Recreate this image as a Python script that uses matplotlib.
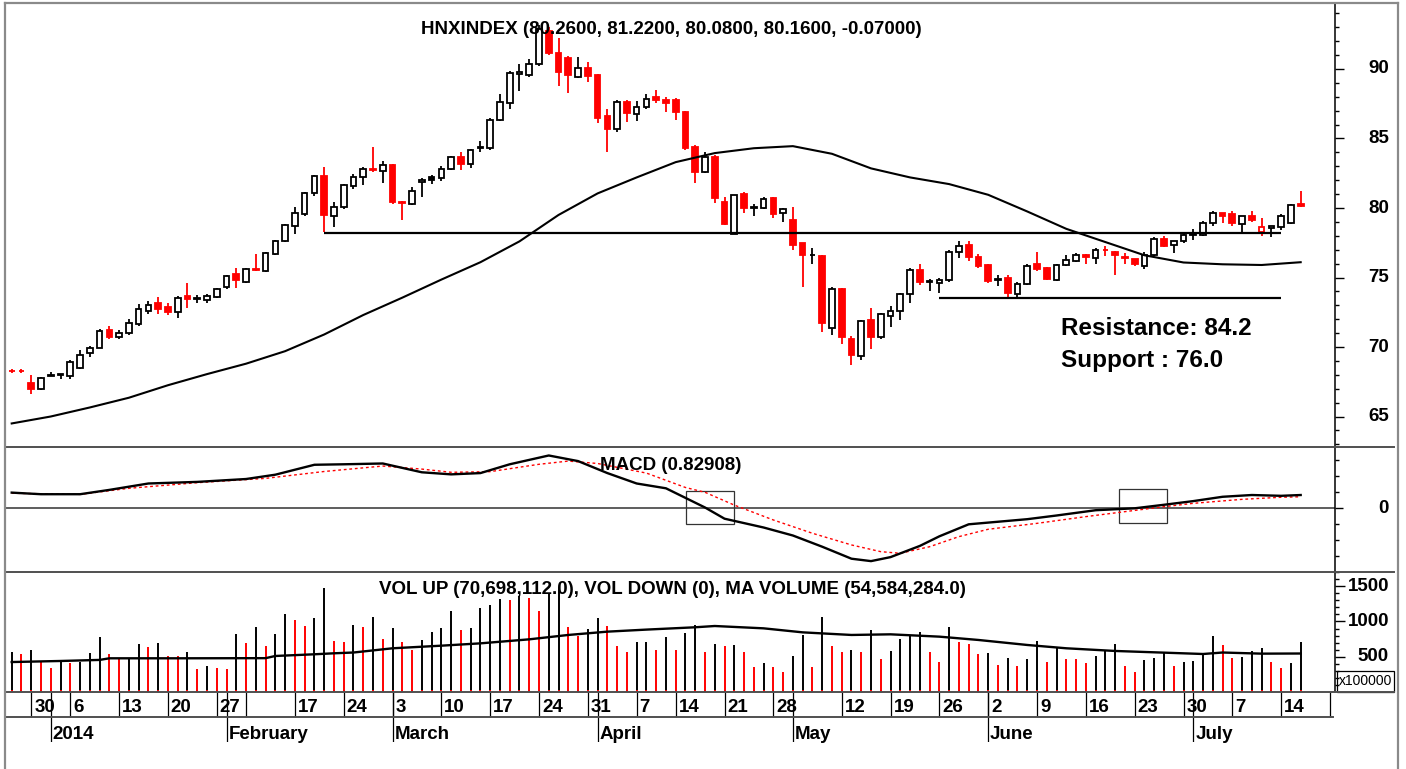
import matplotlib
matplotlib.use('Agg')
import matplotlib.pyplot as plt
import matplotlib.transforms as mtransforms
from matplotlib.patches import Rectangle
from matplotlib.lines import Line2D
import numpy as np

plt.rcParams['font.family'] = ['Liberation Sans', 'DejaVu Sans']

# ---------------- data ----------------
opens = [68.30, 68.30, 67.40, 66.96, 67.93, 68.02, 67.90, 68.50, 69.55, 69.95,
         71.25, 70.70, 71.00, 71.65, 72.60, 73.20, 72.85, 72.50, 73.65, 73.45,
         73.40, 73.60, 74.30, 75.25, 74.70, 75.62, 75.50, 76.70, 77.65, 78.70,
         79.60, 81.05, 82.30, 79.45, 80.05, 81.60, 82.25, 82.78, 82.66, 83.10,
         80.45, 80.30, 81.90, 82.20, 82.15, 82.80, 83.70, 83.15, 84.30, 84.35,
         86.35, 87.55, 89.65, 89.60, 90.35, 92.75, 91.15, 90.80, 89.45, 90.05,
         89.60, 86.60, 85.65, 87.65, 86.75, 87.25, 87.95, 87.80, 87.75, 86.90,
         84.40, 82.60, 83.65, 80.45, 78.15, 81.00, 80.00, 80.00, 80.70, 79.65,
         79.15, 77.45, 76.60, 76.55, 71.40, 74.20, 70.60, 69.35, 71.95, 70.70,
         72.25, 72.60, 73.80, 75.55, 74.65, 74.60, 74.80, 76.80, 77.35, 76.50,
         75.90, 74.85, 75.00, 73.80, 74.50, 75.95, 75.70, 74.85, 75.90, 76.20,
         76.65, 76.40, 77.00, 76.85, 76.50, 76.30, 75.85, 76.60, 77.80, 77.35,
         77.60, 78.05, 78.05, 78.90, 79.65, 79.60, 78.85, 79.45, 78.25, 78.55,
         78.60, 78.95, 80.26]
highs = [68.45, 68.45, 68.00, 67.85, 68.20, 68.05, 69.10, 69.75, 70.10, 71.30,
         71.50, 71.20, 72.00, 73.10, 73.30, 73.60, 73.20, 73.70, 74.60, 73.75,
         73.80, 74.25, 75.20, 75.65, 75.65, 76.70, 76.85, 77.70, 78.85, 80.10,
         81.15, 82.40, 82.95, 80.40, 81.75, 82.45, 82.95, 84.40, 83.35, 83.20,
         80.50, 81.50, 82.15, 82.40, 83.00, 83.75, 84.05, 84.25, 84.80, 86.50,
         88.20, 89.85, 90.35, 90.70, 93.20, 93.05, 92.20, 90.90, 90.85, 90.50,
         89.65, 87.10, 87.75, 87.80, 87.70, 88.20, 88.50, 88.00, 87.90, 86.95,
         84.55, 84.05, 83.80, 80.80, 80.95, 81.15, 80.30, 80.80, 80.80, 80.00,
         80.10, 77.50, 77.10, 76.60, 74.35, 74.25, 70.80, 71.95, 72.80, 72.45,
         72.95, 73.85, 75.65, 76.00, 74.90, 74.95, 76.95, 77.60, 77.60, 76.70,
         76.00, 75.20, 75.20, 74.65, 75.95, 76.80, 75.75, 76.00, 76.60, 76.75,
         76.70, 77.10, 77.30, 76.90, 76.75, 76.35, 76.80, 77.90, 77.95, 77.62,
         78.25, 78.50, 79.05, 79.75, 79.67, 79.80, 79.45, 79.75, 79.25, 78.72,
         79.55, 80.30, 81.22]
lows = [68.15, 68.15, 66.60, 66.90, 67.90, 67.70, 67.70, 68.40, 69.30, 69.90,
        70.60, 70.60, 70.85, 71.50, 72.40, 72.40, 72.30, 72.10, 72.80, 73.20,
        73.20, 73.50, 74.20, 74.25, 74.60, 75.50, 75.40, 76.60, 77.55, 78.10,
        79.45, 80.85, 78.25, 78.60, 79.95, 81.40, 81.65, 82.60, 81.80, 80.30,
        79.15, 80.20, 80.80, 81.75, 81.95, 82.75, 82.70, 82.90, 84.00, 84.20,
        86.25, 87.10, 88.40, 89.40, 90.20, 91.00, 88.80, 88.30, 89.35, 89.05,
        86.15, 84.05, 85.50, 86.20, 86.25, 87.15, 87.55, 86.90, 86.30, 84.15,
        81.80, 82.50, 80.35, 78.75, 78.10, 79.65, 79.40, 79.90, 79.30, 79.00,
        76.95, 74.35, 76.00, 71.10, 70.85, 70.25, 68.70, 69.05, 69.85, 70.60,
        71.45, 71.95, 73.20, 74.45, 74.00, 73.90, 74.70, 76.40, 76.20, 75.70,
        74.60, 74.40, 73.55, 73.50, 74.45, 75.50, 74.80, 74.75, 75.80, 76.10,
        75.95, 75.95, 76.55, 75.20, 75.95, 75.80, 75.60, 76.55, 77.20, 76.75,
        77.50, 77.70, 78.00, 78.70, 78.90, 78.70, 78.20, 79.00, 77.95, 77.90,
        78.45, 78.85, 80.08]
closes = [68.28, 68.25, 67.00, 67.80, 67.97, 68.05, 68.90, 69.40, 69.90, 71.15,
          70.75, 71.00, 71.70, 72.70, 73.05, 72.70, 72.50, 73.50, 73.45, 73.50,
          73.70, 74.15, 75.10, 74.80, 75.60, 75.55, 76.75, 77.60, 78.75, 79.65,
          81.05, 82.30, 79.50, 80.10, 81.65, 82.25, 82.80, 82.70, 83.10, 80.40,
          80.35, 81.25, 82.00, 82.05, 82.80, 83.65, 83.15, 84.15, 84.40, 86.35,
          87.60, 89.70, 89.75, 90.35, 92.90, 91.15, 89.80, 89.55, 90.05, 89.50,
          86.50, 85.65, 87.65, 86.85, 87.25, 87.85, 87.80, 87.55, 86.90, 84.30,
          82.60, 83.65, 80.70, 78.85, 80.90, 80.00, 80.10, 80.65, 79.60, 79.90,
          77.35, 76.60, 76.65, 71.75, 74.20, 70.75, 69.40, 71.90, 70.75, 72.35,
          72.60, 73.80, 75.55, 74.65, 74.75, 74.85, 76.85, 77.30, 76.50, 75.85,
          74.75, 74.90, 73.90, 74.55, 75.85, 75.60, 74.90, 75.90, 76.25, 76.60,
          76.50, 77.00, 76.95, 76.60, 76.40, 76.00, 76.60, 77.80, 77.25, 77.60,
          78.05, 78.10, 78.95, 79.65, 79.45, 78.90, 79.40, 79.15, 78.65, 78.70,
          79.45, 80.23, 80.16]

# 50-day moving average of the index, read every 4 sessions
ma_idx = list(range(0, 133, 4))
ma_val = [64.5, 65.0, 65.65, 66.35, 67.25, 68.05, 68.8, 69.7, 70.9, 72.3,
          73.55, 74.85, 76.1, 77.6, 79.5, 81.05, 82.2, 83.3, 83.95, 84.3,
          84.45, 83.9, 82.85, 82.2, 81.72, 80.95, 79.75, 78.5, 77.55, 76.6,
          76.08, 75.95, 75.9, 76.1]

resistance_level = 78.18
support_level = 73.53

macd_idx = [0, 3, 7, 10, 14, 19, 24, 27, 31, 34, 38, 42, 45, 48, 51, 55, 58, 61,
            64, 67, 69, 71, 73, 77, 80, 83, 86, 88, 90, 93, 95, 98, 101, 104, 107,
            111, 115, 118, 121, 124, 127, 130, 132]
macd_val = [0.98, 0.88, 0.88, 1.15, 1.55, 1.65, 1.83, 2.1, 2.72, 2.75, 2.8, 2.25,
            2.12, 2.2, 2.75, 3.3, 2.95, 2.2, 1.55, 1.25, 0.65, 0.05, -0.65, -1.2,
            -1.7, -2.4, -3.15, -3.3, -3.05, -2.35, -1.75, -1.0, -0.84, -0.68, -0.45,
            -0.12, 0.0, 0.22, 0.45, 0.72, 0.83, 0.78, 0.83]
sig_idx = [0, 7, 12, 19, 26, 32, 38, 42, 45, 49, 54, 57, 60, 65, 69, 71, 74, 78,
           82, 86, 89, 91, 94, 97, 100, 105, 110, 114, 118, 121, 126, 130, 132]
sig_val = [0.94, 0.87, 1.25, 1.6, 1.87, 2.3, 2.64, 2.45, 2.25, 2.29, 2.75, 2.95,
           2.8, 2.2, 1.3, 1.0, 0.2, -0.73, -1.56, -2.29, -2.71, -2.81, -2.4, -1.77,
           -1.31, -0.94, -0.52, -0.21, 0.1, 0.31, 0.56, 0.69, 0.72]

# volume in units of 100,000 shares
volume = [563, 535, 596, 421, 336, 440, 415, 425, 558, 785,
          535, 468, 478, 677, 643, 690, 515, 505, 563, 322,
          369, 336, 330, 818, 690, 918, 657, 823, 1102, 1021,
          941, 1045, 1480, 728, 705, 950, 918, 1060, 747, 903,
          705, 596, 738, 856, 903, 1149, 879, 903, 1187, 1234,
          1319, 1305, 1366, 1329, 1153, 1400, 1471, 927, 794, 894,
          1045, 936, 652, 563, 705, 713, 596,
          785, 596, 832, 950, 563, 677, 655, 665, 563, 359,
          416, 359, 279, 511, 809, 359, 1068, 657, 563, 596,
          563, 879, 468, 582, 747, 799, 856, 563, 430, 918,
          714, 677, 535, 549, 383, 487, 369, 468, 728, 430,
          629, 468, 465, 416, 515, 586, 677, 369, 288, 454,
          487, 563, 369, 421, 440, 525, 794, 667, 487, 495,
          586, 620, 421, 336, 407, 707]
vma_idx = [0, 5, 9, 10, 17, 26, 27, 31, 33, 35, 39, 44, 48, 53, 57, 61, 65, 70,
           72, 77, 81, 86, 90, 95, 99, 104, 108, 113, 117, 122, 124, 128, 132]
vma_val = [425, 440, 455, 478, 478, 480, 511, 535, 549, 560, 620, 657, 690, 747,
           809, 856, 885, 918, 936, 903, 846, 809, 818, 785, 738, 667, 620, 582,
           563, 539, 560, 544, 546]

week_idx = [2, 6, 11, 16, 21, 24, 29, 34, 39, 44, 49, 54, 59, 64, 68, 73, 78, 85,
            90, 95, 100, 105, 110, 115, 120, 125, 130, 135]
week_lbl = ['30', '6', '13', '20', '27', '', '17', '24', '3', '10', '17', '24', '31',
            '7', '14', '21', '28', '12', '19', '26', '2', '9', '16', '23', '30', '7',
            '14', '']
month_idx = [4, 22, 39, 60, 80, 100, 121]
month_lbl = ['2014', 'February', 'March', 'April', 'May', 'June', 'July']

price_major = [65, 70, 75, 80, 85, 90]
vol_major = [500, 1000, 1500]

title_main = 'HNXINDEX (80.2600, 81.2200, 80.0800, 80.1600, -0.07000)'
title_macd = 'MACD (0.82908)'
title_vol = 'VOL UP (70,698,112.0), VOL DOWN (0), MA VOLUME (54,584,284.0)'

# ---------------- figure ----------------
W, H = 1406, 769
fig = plt.figure(figsize=(W / 100, H / 100), dpi=100)
RED = '#ff0000'
GRAY = '#8a8a8a'
SEP = '#505050'


def box(x0, y0, x1, y1):
    return [x0 / W, 1 - y1 / H, (x1 - x0) / W, (y1 - y0) / H]


LEFT, RIGHT = 5, 1335
XL = ((LEFT - 11.7) / 9.765, (RIGHT - 11.7) / 9.765)

ax = fig.add_axes(box(LEFT, 3, RIGHT, 447))
axm = fig.add_axes(box(LEFT, 447, RIGHT, 572))
axv = fig.add_axes(box(LEFT, 572, RIGHT, 692))
axd = fig.add_axes(box(LEFT, 692, RIGHT, 742))

for a in (ax, axm, axv):
    a.set_xlim(*XL)
    for s in ('left', 'top', 'bottom'):
        a.spines[s].set_visible(False)
    a.spines['right'].set_color('black')
    a.spines['right'].set_linewidth(1.1)
    a.tick_params(axis='x', bottom=False, labelbottom=False)
    a.patch.set_alpha(0)

ax.set_ylim(62.806, 94.748)
axm.set_ylim(-3.98, 3.83)
axv.set_ylim(0, 1702)


def right_axis(a, majors, minors, labels, maj_len, min_len):
    a.yaxis.tick_right()
    a.set_yticks(majors)
    a.set_yticks(minors, minor=True)
    a.tick_params(axis='y', which='major', length=maj_len, width=1.0,
                  labelright=False, labelleft=False, right=True, left=False)
    a.tick_params(axis='y', which='minor', length=min_len, width=1.0,
                  right=True, left=False)
    tr = mtransforms.blended_transform_factory(fig.transFigure, a.transData)
    for v, s in zip(majors, labels):
        a.text(1389 / W, v, s, transform=tr, ha='right', va='center',
               fontsize=13.5, fontweight='bold', clip_on=False)


right_axis(ax, price_major, list(range(63, 95)), [str(v) for v in price_major], 6.5, 2.8)
right_axis(axm, [0], [-3, -2, -1, 1, 2, 3], ['0'], 5.8, 2.8)
right_axis(axv, vol_major, list(range(100, 1701, 100)), [str(v) for v in vol_major], 7.0, 2.8)

# ---- candles ----
o = np.array(opens); h = np.array(highs); l = np.array(lows); c = np.array(closes)
n = len(c)
idx = np.arange(n)
prev = np.r_[o[0], c[:-1]]
bw = 0.58
for i in range(n):
    col = RED if c[i] < prev[i] else 'black'
    ax.plot([i, i], [l[i], h[i]], color=col, lw=1.3, zorder=2, solid_capstyle='butt')
    bot = min(o[i], c[i])
    face = col if c[i] < o[i] else 'white'
    ax.add_patch(Rectangle((i - bw / 2, bot), bw, abs(c[i] - o[i]),
                           facecolor=face, edgecolor=col, lw=1.3, zorder=3))

ax.plot(ma_idx, ma_val, color='black', lw=1.5, zorder=4)
ax.hlines(resistance_level, 32, 130, color='black', lw=1.6, zorder=4)
ax.hlines(support_level, 95, 130, color='black', lw=1.6, zorder=4)

fig.text(421 / W, 1 - 29.5 / H, title_main, fontsize=13.5, fontweight='bold',
         ha='left', va='center', zorder=1)
fig.text(1061 / W, 1 - 329 / H, 'Resistance: 84.2', fontsize=17.5, fontweight='bold',
         ha='left', va='center')
fig.text(1061 / W, 1 - 361 / H, 'Support : 76.0', fontsize=17.5, fontweight='bold',
         ha='left', va='center')

# ---- MACD ----
axm.axhline(0, color=SEP, lw=1.3, zorder=1)
axm.plot(sig_idx, sig_val, color=RED, lw=1.0, ls=(0, (2, 2)), zorder=2)
axm.plot(macd_idx, macd_val, color='black', lw=1.7, zorder=3)
axm.add_patch(Rectangle((69.1, -0.98), 4.9, 2.08, fill=False, edgecolor='#333333', lw=0.9))
axm.add_patch(Rectangle((113.4, -0.90), 4.9, 2.09, fill=False, edgecolor='#333333', lw=0.9))
fig.text(600 / W, 1 - 465 / H, title_macd, fontsize=13.5, fontweight='bold',
         ha='left', va='center')

# ---- volume ----
vol = np.array(volume)
vprev = np.r_[vol[0], vol[:-1]]
vcols = [RED if vol[i] < vprev[i] else 'black' for i in range(n)]
axv.vlines(idx, 0, vol, colors=vcols, lw=1.4, zorder=2)
axv.vlines(idx, 0, 28, colors=RED, lw=1.4, zorder=3)
axv.plot(vma_idx, vma_val, color='black', lw=1.7, zorder=4)
fig.text(379 / W, 1 - 590 / H, title_vol, fontsize=13.5, fontweight='bold',
         ha='left', va='center')
fig.add_artist(Rectangle((1337 / W, 1 - 691.7 / H), 57 / W, 21 / H, transform=fig.transFigure,
                         fill=False, edgecolor='black', lw=0.9))
fig.text(1339 / W, 1 - 681 / H, 'x100000', fontsize=10, ha='left', va='center')

# ---- date rows ----
axd.set_xlim(*XL)
axd.set_ylim(50, 0)
axd.axis('off')
axd.vlines(week_idx, 0, 25, color='black', lw=0.9)
axd.vlines(month_idx, 0, 50, color='black', lw=0.9)
for i, s in zip(week_idx, week_lbl):
    if s:
        axd.text(i + 0.3, 15.5, s, ha='left', va='center', fontsize=13.5, fontweight='bold')
for i, s in zip(month_idx, month_lbl):
    axd.text(i + 0.2, 42.3, s, ha='left', va='center', fontsize=13.5, fontweight='bold')

# ---- frame and separators ----
def fline(x0, y0, x1, y1, color, lw):
    fig.add_artist(Line2D([x0 / W, x1 / W], [1 - y0 / H, 1 - y1 / H],
                          transform=fig.transFigure, color=color, lw=lw))

fline(5, 447, 1394, 447, SEP, 1.4)
fline(5, 572, 1394, 572, SEP, 1.4)
fline(5, 692, 1394, 692, SEP, 1.4)
fline(5, 717, 1333, 717, SEP, 1.4)
fline(5, 3, 1398, 3, GRAY, 1.6)
fline(5, 3, 5, 769, GRAY, 1.6)
fline(1398, 3, 1398, 769, GRAY, 1.6)

fig.savefig('out.png', dpi=100)
